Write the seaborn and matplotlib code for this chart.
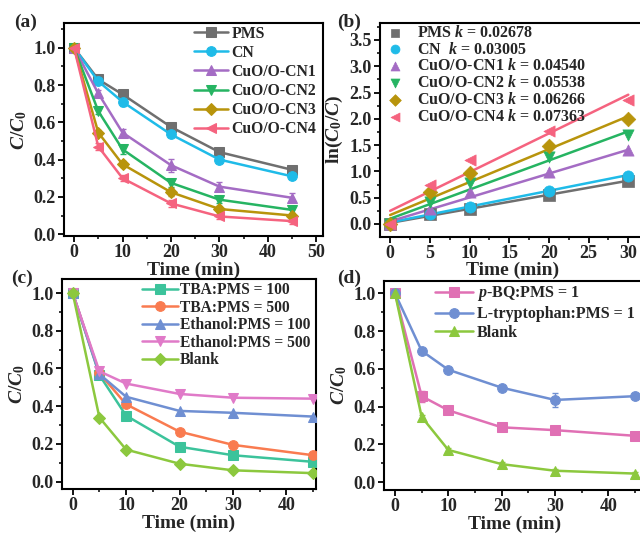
import numpy as np
import pandas as pd
import matplotlib
matplotlib.use("Agg")
import matplotlib.pyplot as plt
from matplotlib.ticker import MultipleLocator, AutoMinorLocator, FormatStrFormatter
import seaborn as sns

# ---- data ----
t = [0, 5, 10, 20, 30, 45]
t_fit = [0, 5, 10, 20, 30]

a_names = ["PMS", "CN", "CuO/O-CN1", "CuO/O-CN2", "CuO/O-CN3", "CuO/O-CN4"]
a_colors = ["#6f6f6f", "#1fbbe8", "#a46cc4", "#26b462", "#b8940c", "#f5637f"]
a_markers = ["s", "o", "^", "v", "D", "<"]
a_vals = [
    [1.0, 0.83, 0.75, 0.575, 0.44, 0.345],
    [1.0, 0.82, 0.71, 0.535, 0.40, 0.31],
    [1.0, 0.755, 0.545, 0.37, 0.255, 0.195],
    [1.0, 0.66, 0.455, 0.275, 0.185, 0.13],
    [1.0, 0.545, 0.375, 0.225, 0.135, 0.10],
    [1.0, 0.47, 0.30, 0.165, 0.095, 0.07],
]
a_err = [
    [0, 0.015, 0.015, 0.015, 0.015, 0.015],
    [0, 0.015, 0.025, 0.015, 0.015, 0.015],
    [0, 0.02, 0.02, 0.035, 0.025, 0.025],
    [0, 0.015, 0.025, 0.02, 0.02, 0.015],
    [0, 0.015, 0.015, 0.02, 0.015, 0.015],
    [0, 0.02, 0.015, 0.02, 0.015, 0.015],
]

b_labels = ["PMS", "CN ", "CuO/O-CN1", "CuO/O-CN2", "CuO/O-CN3", "CuO/O-CN4"]
b_vals = [
    [0, 0.18, 0.29, 0.55, 0.82],
    [0, 0.19, 0.33, 0.62, 0.92],
    [0, 0.28, 0.60, 0.99, 1.40],
    [0, 0.41, 0.78, 1.27, 1.70],
    [0, 0.60, 0.96, 1.48, 1.99],
    [0, 0.74, 1.21, 1.77, 2.35],
]
b_k = ["0.02678", "0.03005", "0.04540", "0.05538", "0.06266", "0.07363"]
b_slope = [0.02678, 0.03005, 0.04540, 0.05538, 0.06266, 0.07363]
b_icpt = [0.02, 0.03, 0.05, 0.10, 0.17, 0.25]

c_names = ["TBA:PMS = 100", "TBA:PMS = 500", "Ethanol:PMS = 100",
           "Ethanol:PMS = 500", "Blank"]
c_colors = ["#3cc39b", "#f97b50", "#6f8fd2", "#e07ac8", "#8cc83e"]
c_markers = ["s", "o", "^", "v", "D"]
c_vals = [
    [1.0, 0.565, 0.35, 0.185, 0.14, 0.105],
    [1.0, 0.575, 0.41, 0.265, 0.195, 0.14],
    [1.0, 0.57, 0.45, 0.375, 0.365, 0.345],
    [1.0, 0.585, 0.52, 0.465, 0.445, 0.44],
    [1.0, 0.34, 0.17, 0.095, 0.06, 0.045],
]

d_names = ["$p$-BQ:PMS = 1", "L-tryptophan:PMS = 1", "Blank"]
d_colors = ["#e070b4", "#6f8fd2", "#8cc83e"]
d_markers = ["s", "o", "^"]
d_vals = [
    [1.0, 0.455, 0.38, 0.29, 0.275, 0.245],
    [1.0, 0.695, 0.595, 0.50, 0.435, 0.455],
    [1.0, 0.345, 0.17, 0.095, 0.06, 0.045],
]
d_err = [
    [0, 0.03, 0.01, 0.01, 0.01, 0.01],
    [0, 0.01, 0.01, 0.01, 0.035, 0.01],
    [0, 0.01, 0.01, 0.01, 0.01, 0.01],
]

# ---- style ----
sns.set_theme(style="ticks")
plt.rcParams["font.family"] = ["Liberation Serif", "DejaVu Serif"]
plt.rcParams["font.weight"] = "bold"
plt.rcParams["axes.labelweight"] = "bold"
plt.rcParams["mathtext.fontset"] = "custom"
plt.rcParams["mathtext.rm"] = "Liberation Serif:bold"
plt.rcParams["mathtext.bf"] = "Liberation Serif:bold"
plt.rcParams["mathtext.it"] = "Liberation Serif:italic:bold"

fig = plt.figure(figsize=(6.4, 5.34), dpi=100)
ax_a = fig.add_axes([0.100, 0.558, 0.405, 0.398])
ax_b = fig.add_axes([0.594, 0.557, 0.4125, 0.3996])
ax_c = fig.add_axes([0.0964, 0.0843, 0.397, 0.393])
ax_d = fig.add_axes([0.600, 0.0824, 0.409, 0.391])


def style_axes(ax):
    for s in ax.spines.values():
        s.set_linewidth(1.5)
        s.set_color("black")
        s.set_visible(True)
    ax.xaxis.set_minor_locator(AutoMinorLocator(2))
    ax.yaxis.set_minor_locator(AutoMinorLocator(2))
    ax.tick_params(which="major", direction="out", length=4, width=1.3,
                   labelsize=13, color="black", pad=2)
    ax.tick_params(which="minor", direction="out", length=2.5, width=1.1,
                   color="black")
    for lab in ax.get_xticklabels() + ax.get_yticklabels():
        lab.set_fontweight("bold")
    ax.set_xlabel("Time (min)", fontsize=14, labelpad=0)


def curves(ax, names, colors, markers, vals, errs=None):
    for i, name in enumerate(names):
        if errs is not None:
            ax.errorbar(t, vals[i], yerr=errs[i], fmt="none", ecolor=colors[i],
                        elinewidth=1, capsize=2.5, capthick=1, zorder=2)
        ms = 6 if markers[i] == "D" else 7
        sns.lineplot(x=t, y=vals[i], ax=ax, color=colors[i], marker=markers[i],
                     markersize=ms, markeredgecolor=colors[i], linewidth=1.8,
                     label=name, zorder=3)


# (a)
curves(ax_a, a_names, a_colors, a_markers, a_vals, a_err)
ax_a.set_xlim(-2.07, 51.4)
ax_a.set_ylim(-0.01, 1.13)
ax_a.xaxis.set_major_locator(MultipleLocator(10))
ax_a.yaxis.set_major_locator(MultipleLocator(0.2))
ax_a.yaxis.set_major_formatter(FormatStrFormatter("%.1f"))
ax_a.set_ylabel("$C/C_0$", fontsize=14, labelpad=3)
ax_a.legend(loc="upper left", bbox_to_anchor=(0.50, 0.99), frameon=False,
            fontsize=11.3, labelspacing=0.2, handlelength=2.2,
            handletextpad=0.2, borderaxespad=0, borderpad=0)
style_axes(ax_a)

# (b)
for i, name in enumerate(b_labels):
    fit = [b_icpt[i] + b_slope[i] * x for x in t_fit]
    sns.lineplot(x=t_fit, y=fit, ax=ax_b, color=a_colors[i], linewidth=1.8,
                 zorder=2)
    sns.scatterplot(x=t_fit, y=b_vals[i], ax=ax_b, color=a_colors[i],
                    marker=a_markers[i], s=55 if a_markers[i] == "D" else 65,
                    edgecolor=a_colors[i], linewidth=0.5, zorder=3,
                    label=name + " $k$ = " + b_k[i])
ax_b.set_xlim(-1.26, 32)
ax_b.set_ylim(-0.24, 3.82)
ax_b.xaxis.set_major_locator(MultipleLocator(5))
ax_b.yaxis.set_major_locator(MultipleLocator(0.5))
ax_b.yaxis.set_major_formatter(FormatStrFormatter("%.1f"))
ax_b.set_ylabel(r"$\mathrm{ln}(C_0/C)$", fontsize=14, labelpad=3)
ax_b.legend(loc="upper left", bbox_to_anchor=(0.02, 1.0),
            frameon=False, fontsize=11.5, labelspacing=0.05,
            handlelength=1.0, handletextpad=0.9, borderaxespad=0,
            borderpad=0.1, markerscale=0.8)
style_axes(ax_b)

# (c)
curves(ax_c, c_names, c_colors, c_markers, c_vals)
ax_c.set_xlim(-2.06, 45.5)
ax_c.set_ylim(-0.039, 1.074)
ax_c.xaxis.set_major_locator(MultipleLocator(10))
ax_c.yaxis.set_major_locator(MultipleLocator(0.2))
ax_c.yaxis.set_major_formatter(FormatStrFormatter("%.1f"))
ax_c.set_ylabel("$C/C_0$", fontsize=14, labelpad=3)
ax_c.legend(loc="upper left", bbox_to_anchor=(0.315, 0.985), frameon=False,
            fontsize=11.2, labelspacing=0.1, handlelength=2.3,
            handletextpad=0.15, borderaxespad=0, borderpad=0)
style_axes(ax_c)

# (d)
curves(ax_d, d_names, d_colors, d_markers, d_vals, d_err)
ax_d.set_xlim(-2.06, 47)
ax_d.set_ylim(-0.042, 1.064)
ax_d.xaxis.set_major_locator(MultipleLocator(10))
ax_d.yaxis.set_major_locator(MultipleLocator(0.2))
ax_d.yaxis.set_major_formatter(FormatStrFormatter("%.1f"))
ax_d.set_ylabel("$C/C_0$", fontsize=14, labelpad=3)
ax_d.legend(loc="upper left", bbox_to_anchor=(0.195, 0.985), frameon=False,
            fontsize=11.5, labelspacing=0.18, handlelength=2.4,
            handletextpad=0.2, borderaxespad=0, borderpad=0)
style_axes(ax_d)

# panel letters
for x, y, s in [(0.022, 0.975, "(a)"), (0.527, 0.975, "(b)"),
                (0.018, 0.495, "(c)"), (0.527, 0.495, "(d)")]:
    fig.text(x, y, s, fontsize=14, fontweight="bold", va="top", ha="left")

fig.savefig("out.png", dpi=100)
